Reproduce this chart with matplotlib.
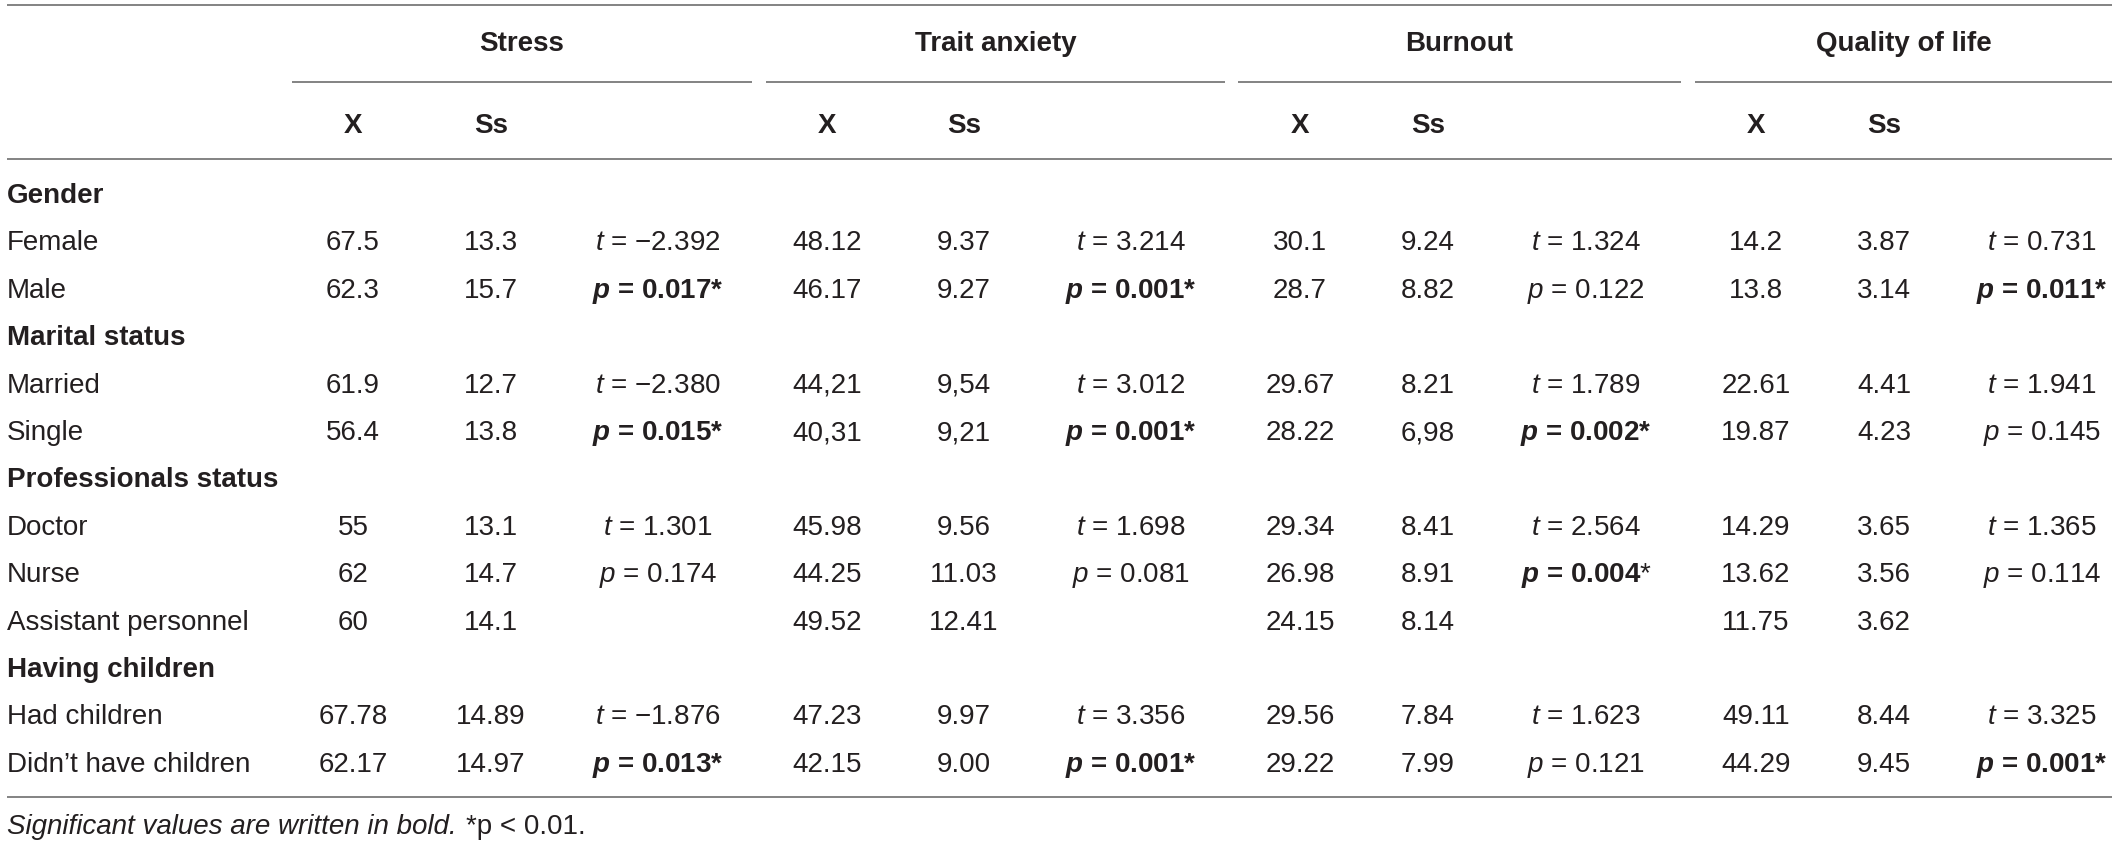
import matplotlib
matplotlib.use("Agg")
import matplotlib.pyplot as plt

# ---- table content -------------------------------------------------------
groups = ["Stress", "Trait anxiety", "Burnout", "Quality of life"]

row_labels = ["Gender", "Female", "Male",
              "Marital status", "Married", "Single",
              "Professionals status", "Doctor", "Nurse", "Assistant personnel",
              "Having children", "Had children", "Didn\u2019t have children"]
is_section = [1, 0, 0, 1, 0, 0, 1, 0, 0, 0, 1, 0, 0]

stress_x = ["67.5", "62.3", "61.9", "56.4", "55", "62", "60", "67.78", "62.17"]
stress_ss = ["13.3", "15.7", "12.7", "13.8", "13.1", "14.7", "14.1", "14.89", "14.97"]
stress_stat = [("t", "\u22122.392"), ("p", "0.017*"), ("t", "\u22122.380"), ("p", "0.015*"),
               ("t", "1.301"), ("p", "0.174"), None, ("t", "\u22121.876"), ("p", "0.013*")]
stress_sig = [0, 1, 0, 1, 0, 0, 0, 0, 1]

trait_x = ["48.12", "46.17", "44,21", "40,31", "45.98", "44.25", "49.52", "47.23", "42.15"]
trait_ss = ["9.37", "9.27", "9,54", "9,21", "9.56", "11.03", "12.41", "9.97", "9.00"]
trait_stat = [("t", "3.214"), ("p", "0.001*"), ("t", "3.012"), ("p", "0.001*"),
              ("t", "1.698"), ("p", "0.081"), None, ("t", "3.356"), ("p", "0.001*")]
trait_sig = [0, 1, 0, 1, 0, 0, 0, 0, 1]

burn_x = ["30.1", "28.7", "29.67", "28.22", "29.34", "26.98", "24.15", "29.56", "29.22"]
burn_ss = ["9.24", "8.82", "8.21", "6,98", "8.41", "8.91", "8.14", "7.84", "7.99"]
burn_stat = [("t", "1.324"), ("p", "0.122"), ("t", "1.789"), ("p", "0.002*"),
             ("t", "2.564"), ("p", "0.004$\\mathrm{*}$"), None, ("t", "1.623"), ("p", "0.121")]
burn_sig = [0, 0, 0, 1, 0, 1, 0, 0, 0]

qol_x = ["14.2", "13.8", "22.61", "19.87", "14.29", "13.62", "11.75", "49.11", "44.29"]
qol_ss = ["3.87", "3.14", "4.41", "4.23", "3.65", "3.56", "3.62", "8.44", "9.45"]
qol_stat = [("t", "0.731"), ("p", "0.011*"), ("t", "1.941"), ("p", "0.145"),
            ("t", "1.365"), ("p", "0.114"), None, ("t", "3.325"), ("p", "0.001*")]
qol_sig = [0, 1, 0, 0, 0, 0, 0, 0, 1]

footnote_a = "Significant values are written in bold."
footnote_b = "*p < 0.01."

# ---- layout (pixels) -----------------------------------------------------
W, H = 2118, 846
FONT = "Liberation Sans"
FS = 20
TXT = "#231f20"
LINE = "#7a7a7a"

left, right = 7, 2112
group_left = [292, 766, 1238, 1695]
group_right = [752, 1225, 1681, 2112]
x_col = [353, 827, 1300, 1756]
ss_col = [491, 964, 1428, 1884]
stat_col = [658, 1131, 1586, 2042]

row_y0, row_dy = 193, 47.4
base_off = 10  # centre of digits -> baseline

plt.rcParams["font.family"] = [FONT, "DejaVu Sans"]
plt.rcParams["mathtext.fontset"] = "custom"
plt.rcParams["mathtext.rm"] = FONT
plt.rcParams["mathtext.it"] = FONT + ":italic"
plt.rcParams["mathtext.bf"] = FONT + ":bold"
try:
    plt.rcParams["mathtext.bfit"] = FONT + ":italic:bold"
except KeyError:
    pass

fig = plt.figure(figsize=(W / 100, H / 100), dpi=100)
ax = fig.add_axes([0, 0, 1, 1])
ax.set_xlim(0, W)
ax.set_ylim(H, 0)
ax.axis("off")

# rules
ax.hlines([5.5, 159, 797], left, right, color=LINE, lw=1.3)
ax.hlines([82] * 4, group_left, group_right, color=LINE, lw=1.3)

# header
for i, g in enumerate(groups):
    cx = (group_left[i] + group_right[i]) / 2
    ax.text(cx, 41 + base_off, g, ha="center", va="baseline", fontsize=FS,
            fontweight="bold", color=TXT)
    ax.text(x_col[i], 123 + base_off, "X", ha="center", va="baseline", fontsize=FS,
            fontweight="bold", color=TXT)
    ax.text(ss_col[i], 123 + base_off, "Ss", ha="center", va="baseline", fontsize=FS,
            fontweight="bold", color=TXT)

# row labels
row_y = [row_y0 + k * row_dy for k in range(len(row_labels))]
data_rows = [y for y, s in zip(row_y, is_section) if not s]
for y, lab, s in zip(row_y, row_labels, is_section):
    ax.text(left, y + base_off, lab, ha="left", va="baseline", fontsize=FS,
            fontweight="bold" if s else "normal", color=TXT)

# body
cols = [(stress_x, stress_ss, stress_stat, stress_sig),
        (trait_x, trait_ss, trait_stat, trait_sig),
        (burn_x, burn_ss, burn_stat, burn_sig),
        (qol_x, qol_ss, qol_stat, qol_sig)]

for g, (xs, sss, stats, sig) in enumerate(cols):
    for r, y in enumerate(data_rows):
        yb = y + base_off
        ax.text(x_col[g], yb, xs[r], ha="center", va="baseline", fontsize=FS, color=TXT)
        ax.text(ss_col[g], yb, sss[r], ha="center", va="baseline", fontsize=FS, color=TXT)
        if stats[r] is None:
            continue
        letter, val = stats[r]
        if sig[r]:
            s = "$\\mathbfit{%s}$ = %s" % (letter, val)
            ax.text(stat_col[g], yb, s, ha="center", va="baseline", fontsize=FS,
                    fontweight="bold", color=TXT)
        else:
            s = "$\\mathit{%s}$ = %s" % (letter, val)
            ax.text(stat_col[g], yb, s, ha="center", va="baseline", fontsize=FS, color=TXT)

# footnote
t1 = ax.text(left, 824 + base_off, footnote_a, ha="left", va="baseline", fontsize=FS,
             fontstyle="italic", color=TXT)
renderer = fig.canvas.get_renderer()
bb = t1.get_window_extent(renderer)
ax.text(bb.x1 + 9, 824 + base_off, footnote_b, ha="left", va="baseline", fontsize=FS,
        color=TXT)

fig.savefig("out.png", dpi=100)
